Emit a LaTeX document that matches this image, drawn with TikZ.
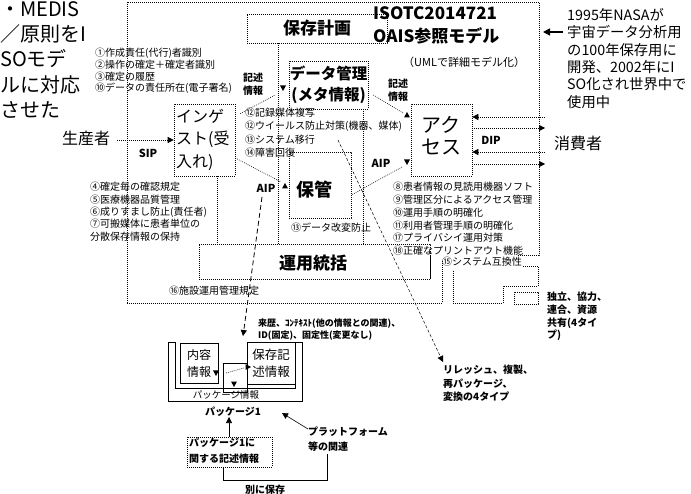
\documentclass[tikz,border=0pt]{standalone}
\usepackage{fontspec}
\setmainfont{Noto Sans CJK JP}
\usetikzlibrary{arrows.meta}
\newcommand\myfs[2]{\fontsize{#1}{#2}\selectfont}
\begin{document}
\begin{tikzpicture}[x=1pt,y=-1pt,
  dotl/.style={line width=0.6pt, dash pattern=on 0.8pt off 1.2pt},
  dbox/.style={draw, dotl, inner sep=0pt},
  sbox/.style={draw, line width=0.6pt, inner sep=0pt},
  txt/.style={inner sep=0pt, align=left},
  tip/.style={-{Triangle[length=6pt,width=6pt]}},
  tdn/.pic={\fill (-3,-2.5)--(3,-2.5)--(0,3)--cycle;},
  tup/.pic={\fill (-3,2.5)--(3,2.5)--(0,-3)--cycle;},
  trt/.pic={\fill (-2.5,-3)--(-2.5,3)--(3,0)--cycle;},
  tlt/.pic={\fill (2.5,-3)--(2.5,3)--(-3,0)--cycle;}]
\useasboundingbox (0,0) rectangle (691,494);
\fill[white] (0,0) rectangle (691,494);

% outer frame
\draw[dotl] (127,303) -- (127,2) -- (539,2) -- (539,255) -- (517,255);
\draw[dotl] (127,303) -- (442,303) -- (442,260);
\draw[dotl] (430,279) -- (430,255);
\draw[dotl] (523,266) -- (538,266) -- (538,286) -- (503,286) -- (503,303) -- (453,303) -- (453,270);
\node[dbox, minimum width=24pt, minimum height=12pt] (small) at (526,298) {};

% left big text
\node[txt, anchor=north west, font=\myfs{20}{25.3}] (medis) at (0,1) {・MEDIS\\／原則をI\\SOモデ\\ルに対応\\させた};
\node[txt, anchor=north west, font=\myfs{10}{11.7}] (list1) at (95,48) {①作成責任(代行)者識別\\②操作の確定＋確定者識別\\③確定の履歴\\⑩データの責任所在(電子署名)};

% title
\node[txt, anchor=west, font=\myfs{17}{20}\bfseries] (t1) at (373,13) {ISOTC2014721};
\node[txt, anchor=west, font=\myfs{17}{20}\bfseries] (t2) at (373,36) {OAIS参照モデル};
\node[txt, anchor=west, font=\myfs{11}{13}] (t3) at (403,62) {（UMLで詳細モデル化）};

% right text
\node[txt, anchor=north west, font=\myfs{14.3}{17.4}] (nasa) at (567,8) {1995年NASAが\\宇宙データ分析用\\の100年保存用に\\開発、2002年にI\\SO化され世界中で\\使用中};
\coordinate (nasaarr) at (563,32);
\draw[line width=1.4pt, -{Triangle[length=7pt,width=7pt]}] (nasaarr) -- (543,32);

% boxes
\node[dbox, minimum width=140pt, minimum height=29pt, font=\myfs{17}{20}\bfseries] (plan) at (317,28.5) {保存計画};
\node[dbox, minimum width=79pt, minimum height=48pt, align=center, font=\myfs{15.5}{21}\bfseries] (data) at (328.5,85) {データ管理\\(メタ情報)};
\node[dbox, minimum width=61pt, minimum height=72pt] (ing) at (204.5,140) {};
\node[txt, anchor=north west, font=\myfs{16}{22.5}] (ingt) at (176,109) {インゲ\\スト(受\\入れ)};
\node[dbox, minimum width=61pt, minimum height=72pt] (acc) at (441.5,140) {};
\node[txt, align=left, font=\myfs{20}{22}] (acct) at (441,136) {アク\\セス};
\node[dbox, minimum width=62pt, minimum height=66pt] (hokan) at (320,185) {};
\node[txt, font=\myfs{18}{20}\bfseries] (hokant) at (314,190) {保管};
\node[dbox, minimum width=231pt, minimum height=35pt] (unyo) at (314.5,261.5) {};
\node[txt, font=\myfs{17}{20}\bfseries] (unyot) at (313,263) {運用統括};

% vertical links to 運用統括
\draw[dotl] (plan.south -| 278,0) -- (unyo.north -| 278,0);
\draw[dotl] (data.south -| 363,0) -- (unyo.north -| 363,0);
\draw[dotl] (ing.south -| 217,0) -- (unyo.north -| 217,0);

% lists
\node[txt, anchor=north west, font=\myfs{10}{13.3}] (list2) at (245,108) {⑫記録媒体複写\\⑫ウイールス防止対策(機器、媒体)\\⑬システム移行\\⑭障害回復};
\node[txt, anchor=west, font=\myfs{10}{12}] (kaihen) at (291,228) {⑬データ改変防止};
\node[txt, anchor=north west, font=\myfs{10}{12.4}] (list3) at (90,182) {④確定毎の確認規定\\⑤医療機器品質管理\\⑥成りすまし防止(責任者)\\⑦可搬媒体に患者単位の\\分散保存情報の保持};
\node[txt, anchor=north west, font=\myfs{10}{12.8}] (list4) at (393,182) {⑧患者情報の見読用機器ソフト\\⑨管理区分によるアクセス管理\\⑩運用手順の明確化\\⑪利用者管理手順の明確化\\⑰プライバシイ運用対策\\⑱正確なプリントアウト機能};
\node[txt, anchor=west, font=\myfs{10}{12}] (compat) at (442,262) {⑮システム互換性};
\node[txt, anchor=west, font=\myfs{10}{12}] (shisetsu) at (169,291) {⑯施設運用管理規定};
\node[txt, anchor=north west, font=\myfs{10}{12.7}\bfseries] (dokuritsu) at (547,292) {独立、協力、\\連合、資源\\共有(4タイ\\プ)};

% description info links
\node[txt, anchor=north west, font=\myfs{10}{13}\bfseries] (kij1) at (243,73) {記述\\情報};
\node[txt, anchor=north west, font=\myfs{10}{13}\bfseries] (kij2) at (388,79) {記述\\情報};
\draw[dotl] (ing.north east) ++(5,10) -- (275,95);
\pic at (283,88) {tdn};
\draw[dotl] (data.east) ++(5,10) -- (403,113);
\pic at (407,115) {tup};

% AIP links
\node[txt, font=\myfs{11}{13}\bfseries] (aip1) at (381,163) {AIP};
\node[txt, font=\myfs{11}{13}\bfseries] (aip2) at (266,188) {AIP};
\pic at (407,162) {tdn};
\pic at (285,186) {tup};
\draw[dotl] (402,167) -- (hokan.east |- 0,195);
\draw[dotl] (ing.east |- 0,158) -- (281,182);

% producer / consumer
\node[txt, font=\myfs{16}{18}] (prod) at (86,138) {生産者};
\node[txt, font=\myfs{16}{18}] (cons) at (578,143) {消費者};
\node[txt, font=\myfs{11}{13}\bfseries] (sip) at (148,153) {SIP};
\node[txt, font=\myfs{11}{13}\bfseries] (dip) at (491,140) {DIP};
\draw[dotl, tip] (prod.east) ++(7,2) -- (ing.west |- 0,140);
\coordinate (d1) at (545,117);
\coordinate (d2) at (545,128);
\coordinate (d3) at (545,152);
\coordinate (d4) at (545,164);
\draw[dotl, tip] (d1) -- (d1 -| acc.east);
\draw[dotl, tip] (d2 -| acc.east) -- (d2);
\draw[dotl, tip] (d3) -- (d3 -| acc.east);
\draw[dotl, tip] (d4 -| acc.east) -- (d4);

% long dashed arrows
\coordinate (aipdash) at (262,197);
\coordinate (pkgin) at (243,336);
\draw[line width=0.8pt, dash pattern=on 5pt off 3pt, tip] (aipdash) -- (pkgin);
\coordinate (migr) at (338,140);
\coordinate (refr) at (443,362);
\draw[line width=0.5pt, dash pattern=on 3pt off 2pt, tip] (migr) -- (refr);
\node[txt, anchor=north west, font=\myfs{10}{13.5}\bfseries] (refresh) at (443,365) {リレッシュ、複製、\\再パッケージ、\\変換の4タイプ};

% package
\node[txt, anchor=north west, font=\myfs{9}{11.5}\bfseries] (rireki) at (258,319) {来歴、ｺﾝﾃｷｽﾄ(他の情報との関連)、\\ID(固定)、固定性(変更なし)};
\draw[line width=0.6pt] (176,342) -- (168,342) -- (168,401) -- (302,401) -- (302,342) -- (295,342);
\draw[line width=0.6pt] (175,342) -- (175,388) -- (295,388) -- (295,342);
\node[sbox, minimum width=38pt, minimum height=40pt, align=center, font=\myfs{12}{17}] (naiyo) at (199,363) {内容\\情報};
\node[sbox, minimum width=48pt, minimum height=42pt, align=center, font=\myfs{12.5}{17}] (hozonk) at (271,363) {保存記\\述情報};
\node[sbox, minimum width=24pt, minimum height=29pt] (mid) at (235,377.5) {};
\pic at (216,373) {tdn};
\draw[dotl] (226,373) -- (244,368);
\pic at (248,367) {trt};
\pic at (234,384) {tdn};
\node[txt, font=\myfs{9.5}{11}] (pkinfo) at (226,394.5) {パッケージ情報};
\node[txt, font=\myfs{10}{12}\bfseries] (pkg1) at (233,412) {パッケージ1};
\node[dbox, minimum width=85pt, minimum height=30pt] (pkdesc) at (229.5,452) {};
\node[txt, anchor=north west, font=\myfs{10}{15.5}\bfseries] (pkdesct) at (189,438) {パッケージ1に\\関する記述情報};
\draw[line width=0.6pt, tip] (pkdesc.north -| 229,0) -- (pkg1.south -| 229,0);
\node[txt, anchor=north west, font=\myfs{10}{15}\bfseries] (plat) at (308,427) {プラットフォーム\\等の関連};
\coordinate (platarr) at (282,413);
\draw[line width=0.6pt, tip] (plat.north west) ++(0,2) -- (platarr);
\draw[line width=0.6pt] (pkdesc.south -| 223,0) -- (223,480) -- (327,480) -- (327,454);
\node[txt, font=\myfs{10}{12}\bfseries] (betsu) at (265,490) {別に保存};
\end{tikzpicture}
\end{document}
